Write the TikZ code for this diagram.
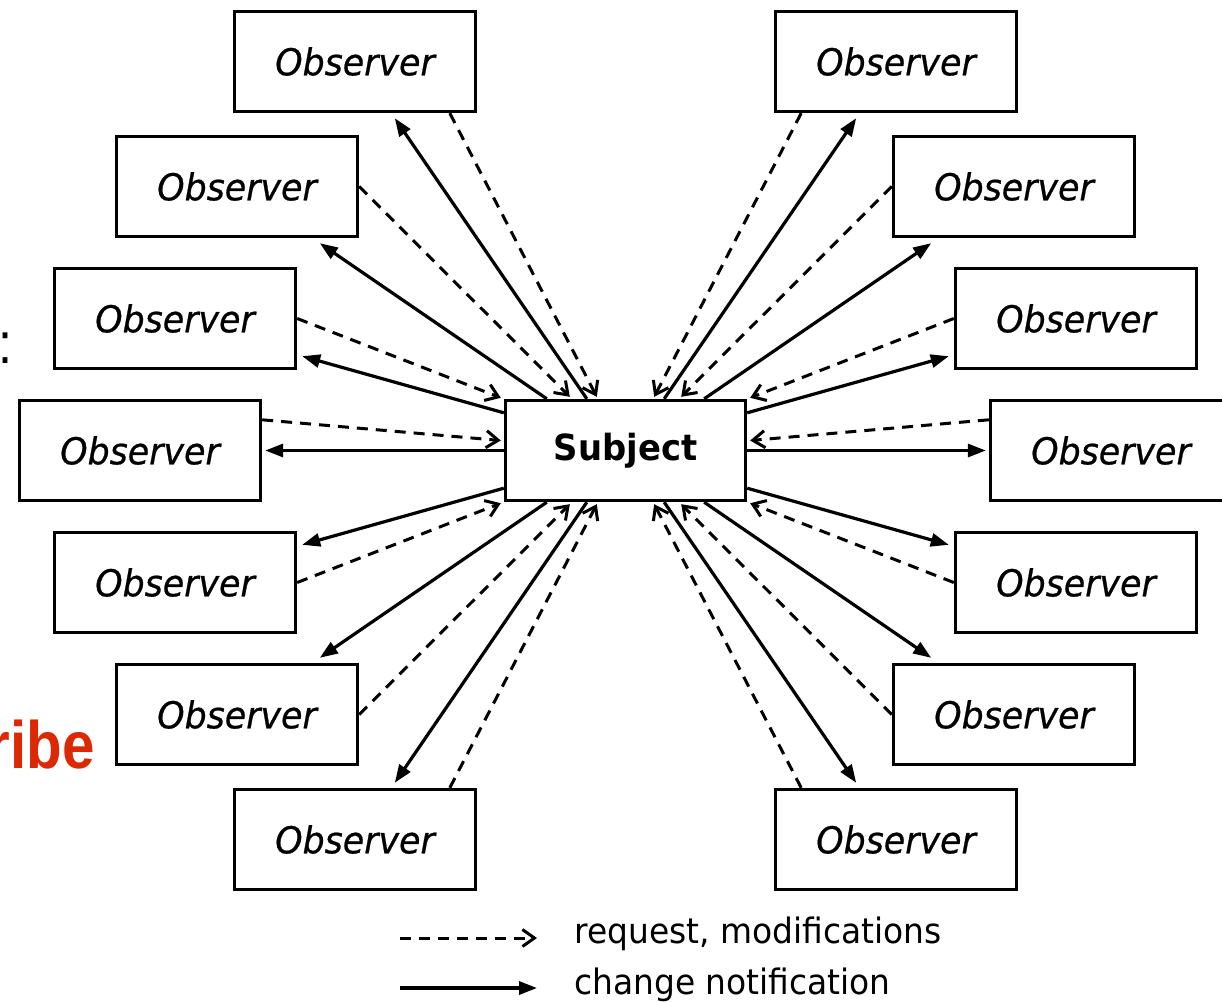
\documentclass[tikz,border=0pt]{standalone}
\usepackage{fontspec}
\setmainfont{DejaVu Sans}[FakeStretch=0.94, ItalicFeatures={FakeBold=0.6}]
\newfontfamily\slidefont{Liberation Sans}[FakeStretch=0.87]
\usetikzlibrary{arrows.meta,calc}
\definecolor{slidered}{RGB}{221,40,4}
\begin{document}
\begin{tikzpicture}[x=1pt,y=-1pt,
  obs/.style={draw, line width=3.4pt, minimum width=241pt, minimum height=100pt,
    inner sep=0pt, font=\fontsize{37}{40}\selectfont\itshape},
  subj/.style={draw, line width=3.4pt, minimum width=240pt, minimum height=100pt,
    inner sep=0pt, font=\fontsize{36}{40}\selectfont\bfseries},
  notify/.style={line width=3.2pt, -{Triangle[length=18pt,width=13pt]}},
  request/.style={line width=3pt, dash pattern=on 11pt off 8pt,
    -{Straight Barb[length=12pt,width=17pt]}},
  legendtext/.style={anchor=base west, inner sep=0pt, font=\fontsize{35}{40}\selectfont},
]
\useasboundingbox (0,0) rectangle (1222,1001);

% leftover slide text at the left edge
\node[anchor=base west, inner sep=0pt, font=\slidefont\fontsize{58}{60}\selectfont] (colon) at (-1.5,363) {:};
\node[anchor=base east, inner sep=0pt, text=slidered,
  font=\slidefont\fontsize{67}{70}\selectfont\bfseries] (ribe) at (95,768) {ribe};

% subject in the middle
\node[subj] (s) at (625.5,450.5) {Subject};

% observers, left column
\node[obs] (l1) at (355,61.5) {Observer};
\node[obs] (l2) at (237,186.5) {Observer};
\node[obs] (l3) at (175,318.5) {Observer};
\node[obs] (l4) at (140,450.5) {Observer};
\node[obs] (l5) at (175,582.5) {Observer};
\node[obs] (l6) at (237,714.5) {Observer};
\node[obs] (l7) at (355,839.5) {Observer};

% observers, right column
\node[obs] (r1) at (896,61.5) {Observer};
\node[obs] (r2) at (1014,186.5) {Observer};
\node[obs] (r3) at (1076,318.5) {Observer};
\node[obs] (r4) at (1111,450.5) {Observer};
\node[obs] (r5) at (1076,582.5) {Observer};
\node[obs] (r6) at (1014,714.5) {Observer};
\node[obs] (r7) at (896,839.5) {Observer};

% left column: notifications out, requests in
\draw[notify]  ($(s.north west)+(83,0)$) -- ($(l1.south west)+(162,5)$);
\draw[request] ($(l1.south west)+(217,0)$) -- ($(s.north west)+(93,-2)$);
\draw[notify]  ($(s.north west)+(43,0)$) -- ($(l2.south west)+(205,5)$);
\draw[request] (l2.east) -- ($(s.north west)+(66,-2)$);
\draw[notify]  ($(s.north west)+(0,14)$) -- ($(l3.south east)+(5,-14)$);
\draw[request] (l3.east) -- ($(s.north west)+(-3,-1)$);
\draw[notify]  (s.west) -- ($(l4.east)+(3,0)$);
\draw[request] ($(l4.north east)+(0,21)$) -- ($(s.west)+(-3,-10)$);
\draw[notify]  ($(s.south west)+(0,-14)$) -- ($(l5.north east)+(5,14)$);
\draw[request] (l5.east) -- ($(s.south west)+(-3,1)$);
\draw[notify]  ($(s.south west)+(43,0)$) -- ($(l6.north west)+(205,-5)$);
\draw[request] (l6.east) -- ($(s.south west)+(66,2)$);
\draw[notify]  ($(s.south west)+(83,0)$) -- ($(l7.north west)+(162,-5)$);
\draw[request] ($(l7.north west)+(217,0)$) -- ($(s.south west)+(93,2)$);

% right column: notifications out, requests in
\draw[notify]  ($(s.north east)+(-83,0)$) -- ($(r1.south east)+(-162,5)$);
\draw[request] ($(r1.south east)+(-217,0)$) -- ($(s.north east)+(-93,-2)$);
\draw[notify]  ($(s.north east)+(-43,0)$) -- ($(r2.south east)+(-205,5)$);
\draw[request] (r2.west) -- ($(s.north east)+(-66,-2)$);
\draw[notify]  ($(s.north east)+(0,14)$) -- ($(r3.south west)+(-5,-14)$);
\draw[request] (r3.west) -- ($(s.north east)+(3,-1)$);
\draw[notify]  (s.east) -- ($(r4.west)+(-3,0)$);
\draw[request] ($(r4.north west)+(0,21)$) -- ($(s.east)+(3,-10)$);
\draw[notify]  ($(s.south east)+(0,-14)$) -- ($(r5.north west)+(-5,14)$);
\draw[request] (r5.west) -- ($(s.south east)+(3,1)$);
\draw[notify]  ($(s.south east)+(-43,0)$) -- ($(r6.north east)+(-205,-5)$);
\draw[request] (r6.west) -- ($(s.south east)+(-66,2)$);
\draw[notify]  ($(s.south east)+(-83,0)$) -- ($(r7.north east)+(-162,-5)$);
\draw[request] ($(r7.north east)+(-217,0)$) -- ($(s.south east)+(-93,2)$);

% legend
\coordinate (ka) at (400,938);
\coordinate (kb) at (537,938);
\coordinate (kc) at (400,988);
\coordinate (kd) at (537,988);
\draw[request] (ka) -- (kb);
\draw[notify] (kc) -- (kd);
\node[legendtext] (kreq) at (574,943) {request, modifications};
\node[legendtext] (knot) at (574,994) {change notification};
\end{tikzpicture}
\end{document}
